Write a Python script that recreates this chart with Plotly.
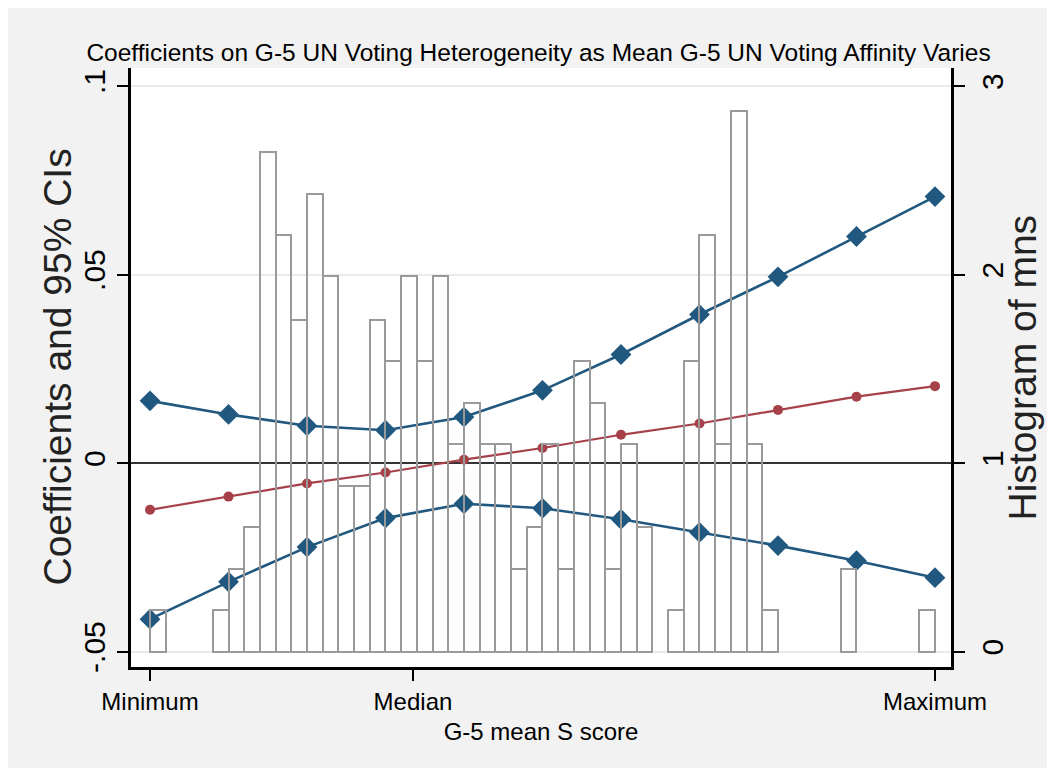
import plotly.graph_objects as go

# ---- data ----
x_points = [0.0, 0.1, 0.2, 0.3, 0.4, 0.5, 0.6, 0.7, 0.8, 0.9, 1.0]
upper_ci = [0.0165, 0.0129, 0.0099, 0.0087, 0.0122, 0.0193, 0.0288, 0.0394, 0.0494, 0.0601, 0.0707]
estimate = [-0.0124, -0.0089, -0.0054, -0.0025, 0.0009, 0.0040, 0.0075, 0.0105, 0.0141, 0.0176, 0.0204]
lower_ci = [-0.0414, -0.0315, -0.0223, -0.0146, -0.0108, -0.0120, -0.0149, -0.0184, -0.0219, -0.0259, -0.0304]

hist_centers = [0.01, 0.09, 0.11, 0.13, 0.15, 0.17, 0.19, 0.21, 0.23, 0.25, 0.27, 0.29, 0.31,
                0.33, 0.35, 0.37, 0.39, 0.41, 0.43, 0.45, 0.47, 0.49, 0.51, 0.53, 0.55, 0.57,
                0.59, 0.61, 0.63, 0.67, 0.69, 0.71, 0.73, 0.75, 0.77, 0.79, 0.89, 0.99]
hist_heights = [0.22, 0.22, 0.44, 0.66, 2.65, 2.21, 1.76, 2.43, 1.99, 0.88, 0.88, 1.76, 1.54,
                1.99, 1.54, 1.99, 1.10, 1.32, 1.10, 1.10, 0.44, 0.66, 1.10, 0.44, 1.54, 1.32,
                0.44, 1.10, 0.66, 0.22, 1.54, 2.21, 1.10, 2.87, 1.10, 0.22, 0.44, 0.22]
hist_bin_width = 0.02

x_tick_vals = [0.0, 0.335, 1.0]
x_tick_text = ["Minimum", "Median", "Maximum"]
y_tick_vals = [-0.05, 0.0, 0.05, 0.1]
y_tick_text = ["-.05", "0", ".05", ".1"]
y2_tick_vals = [0, 1, 2, 3]
y2_tick_text = ["0", "1", "2", "3"]

title_text = "Coefficients on G-5 UN Voting Heterogeneity as Mean G-5 UN Voting Affinity Varies"
x_title = "G-5 mean S score"
y_title = "Coefficients and 95% CIs"
y2_title = "Histogram of mns"

BLUE = "#21587f"
RED = "#a6414a"
GRAY = "#9a9a9a"
FONT = "Liberation Sans, Arial, sans-serif"

W, H = 1039, 760
ML, MR, MT, MB = 123, 96, 60, 101
PW = W - ML - MR

fig = go.Figure()

fig.add_trace(go.Scatter(
    x=x_points, y=upper_ci, mode="lines+markers",
    line=dict(color=BLUE, width=2.6),
    marker=dict(symbol="diamond", size=16, color=BLUE),
    showlegend=False))
fig.add_trace(go.Scatter(
    x=x_points, y=lower_ci, mode="lines+markers",
    line=dict(color=BLUE, width=2.6),
    marker=dict(symbol="diamond", size=16, color=BLUE),
    showlegend=False))
fig.add_trace(go.Scatter(
    x=x_points, y=estimate, mode="lines+markers",
    line=dict(color=RED, width=2.2),
    marker=dict(symbol="circle", size=10, color=RED),
    showlegend=False))

fig.add_trace(go.Bar(
    x=hist_centers, y=hist_heights, width=hist_bin_width,
    marker=dict(color="rgba(0,0,0,0)", line=dict(color=GRAY, width=2)),
    yaxis="y2", showlegend=False))

y_lo, y_hi = -0.0541, 0.1048

fig.update_layout(
    width=W, height=H,
    margin=dict(l=ML, r=MR, t=MT, b=MB),
    paper_bgcolor="#f2f2f2",
    plot_bgcolor="white",
    title=dict(text=title_text, xref="paper", x=0.497, xanchor="center",
               y=1 - 44 / H, yanchor="middle",
               font=dict(family=FONT, size=24.5, color="black")),
    xaxis=dict(range=[-0.0242, 1.0204], tickvals=x_tick_vals, ticktext=x_tick_text,
               ticks="outside", ticklen=11, tickwidth=2, tickcolor="black",
               showline=True, linecolor="black", linewidth=2.5, showgrid=False, zeroline=False,
               tickfont=dict(family=FONT, size=24, color="black"),
               title=dict(text=x_title, font=dict(family=FONT, size=24, color="black"), standoff=10)),
    yaxis=dict(range=[y_lo, y_hi], tickvals=y_tick_vals, ticktext=y_tick_text, tickangle=-90,
               ticks="outside", ticklen=11, tickwidth=2, tickcolor="black",
               showline=True, linecolor="black", linewidth=2.5,
               showgrid=True, gridcolor="#eaeaea", gridwidth=2,
               zeroline=True, zerolinecolor="#333333", zerolinewidth=2,
               tickfont=dict(family=FONT, size=30, color="black")),
    yaxis2=dict(overlaying="y", side="right",
                range=[(y_lo + 0.05) / 0.05, (y_hi + 0.05) / 0.05],
                tickvals=y2_tick_vals, ticktext=y2_tick_text, tickangle=-90,
                ticks="outside", ticklen=11, tickwidth=2, tickcolor="black",
                ticklabelstandoff=2,
                showline=True, linecolor="black", linewidth=2.5,
                showgrid=False, zeroline=False,
                tickfont=dict(family=FONT, size=30, color="black")),
    bargap=0,
    annotations=[
        dict(text=y_title, textangle=-90, showarrow=False,
             xref="paper", yref="paper", x=(49 - ML) / PW, y=0.5,
             xanchor="center", yanchor="middle",
             font=dict(family=FONT, size=39, color="#222222")),
        dict(text=y2_title, textangle=-90, showarrow=False,
             xref="paper", yref="paper", x=(1014 - ML) / PW, y=0.5,
             xanchor="center", yanchor="middle",
             font=dict(family=FONT, size=39, color="#222222")),
    ],
)

fig.write_html("out.html")
